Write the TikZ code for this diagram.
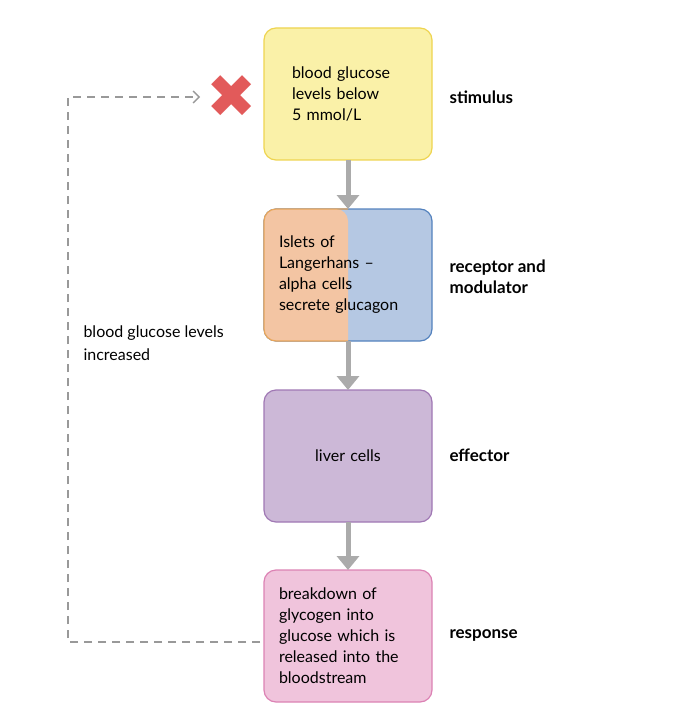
\documentclass[tikz,border=0pt]{standalone}
\usepackage{fontspec}
\setmainfont{Lato}
\newfontfamily\symfont{DejaVu Sans}
\usetikzlibrary{positioning,arrows.meta}
\definecolor{stimfill}{RGB}{250,241,168}
\definecolor{stimline}{RGB}{238,212,80}
\definecolor{orfill}{RGB}{243,197,163}
\definecolor{orline}{RGB}{232,166,90}
\definecolor{blfill}{RGB}{181,200,227}
\definecolor{blline}{RGB}{84,130,190}
\definecolor{effill}{RGB}{204,184,215}
\definecolor{efline}{RGB}{160,120,180}
\definecolor{refill}{RGB}{240,196,220}
\definecolor{reline}{RGB}{220,130,180}
\definecolor{crossred}{RGB}{226,90,90}
\begin{document}
\begin{tikzpicture}[x=1pt,y=1pt,
  box/.style={rectangle,rounded corners=12pt,minimum width=168pt,minimum height=132pt,
    line width=1.2pt,outer sep=0pt,text width=138pt,align=left,font=\fontsize{16}{21}\selectfont},
  lab/.style={font=\fontsize{17}{21}\selectfont\bfseries,align=left,anchor=west},
  flow/.style={-{Triangle[length=14pt,width=22pt]},line width=5pt,draw=black!33}]
\useasboundingbox (0,0) rectangle (692,-722);
\node[box,fill=stimfill,draw=stimline,text width=112pt] (stim) at (348,-94) {blood glucose\\levels below\\5 mmol/L};
\node[box,fill=blfill,draw=blline] (mod) at (348,-275) {};
\fill[orfill,rounded corners=12pt]
  (mod.south) -- (mod.south west) -- (mod.north west) -- (mod.north) [sharp corners] -- cycle;
\draw[line width=1.2pt,draw=orline,rounded corners=12pt]
  (mod.south) -- (mod.south west) -- (mod.north west) -- (mod.north);
\node[box,minimum height=0pt] (modtext) at (mod.center) {Islets of\\Langerhans –\\alpha cells\\secrete glucagon};
\node[box,fill=effill,draw=efline,align=center] (eff) at (348,-456) {liver cells};
\node[box,fill=refill,draw=reline] (resp) at (348,-636) {breakdown of\\glycogen into\\glucose which is\\released into the\\bloodstream};

\node[lab] (l1) at (446,-97) {stimulus};
\node[lab] (l2) at (446,-277) {receptor and\\modulator};
\node[lab] (l3) at (446,-455) {effector};
\node[lab] (l4) at (446,-635) {response};

\draw[flow] (stim) -- (mod);
\draw[flow] (mod) -- (eff);
\draw[flow] (eff) -- (resp);

\node[font=\fontsize{60}{60}\selectfont\symfont,text=crossred] (cross) at (232,-97) {✖};
\coordinate (c1) at (68,-642);
\coordinate (c2) at (68,-97);
\coordinate (c3) at (200,-97);
\draw[dashed,dash pattern=on 8pt off 6pt,draw=black!40,line width=1.3pt,-{Straight Barb[length=6pt]}]
  ([xshift=-4pt]resp.west |- c1) -- (c1) -- (c2) -- (c3);
\node[font=\fontsize{16}{23}\selectfont,align=left,anchor=west] (incr) at (80,-343) {blood glucose levels\\increased};
\end{tikzpicture}
\end{document}
